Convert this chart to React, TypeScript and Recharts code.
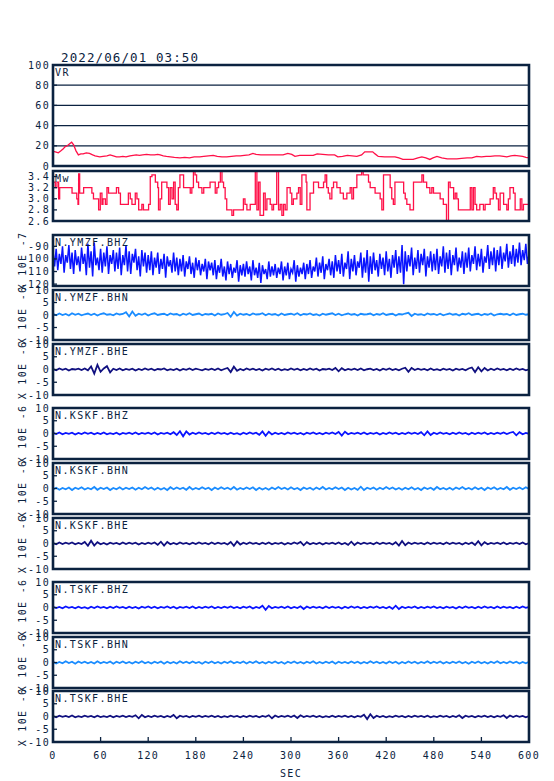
import React from "react";
import { LineChart, Line, XAxis, YAxis, CartesianGrid, ReferenceArea } from "recharts";

// ---- ticks ----
const X_TICKS = [0, 60, 120, 180, 240, 300, 360, 420, 480, 540, 600];
const VR_TICKS = [0, 20, 40, 60, 80, 100];
const MW_TICKS = [2.6, 2.8, 3.0, 3.2, 3.4];
const BHZ7_TICKS = [-120, -110, -100, -90];
const UM_TICKS = [-10, -5, 0, 5, 10];

// ---- VR [sec, value] ----
const VR: [number, number][] = [
  [0, 14.5], [3, 14], [6.7, 13], [10, 15], [13, 17], [15, 19], [18, 20], [21, 22], [23.5, 23.5], [26, 21],
  [29, 15], [32, 11], [35, 12], [38, 12], [42, 13], [46, 12.5], [50, 11], [53, 10], [56, 9.5], [59, 9],
  [63, 9.5], [68, 10], [72, 11], [76, 10], [80, 9], [84, 9], [88, 9.5], [92, 9], [97, 10], [101, 10.5],
  [105, 11], [109, 10.5], [113, 11], [118, 11.5], [123, 11], [128, 11], [132, 11.5], [135, 11], [139, 10], [143, 9.5],
  [148, 9], [153, 8.5], [160, 8], [166, 8.5], [172, 8], [178, 9], [185, 9], [190, 9.5], [196, 10], [202, 10.5],
  [207, 9.5], [213, 9], [219, 9], [225, 9.5], [231, 10], [236, 10], [241, 10.5], [247, 11], [252, 12.5], [256, 11.5],
  [262, 11], [269, 11], [275, 11], [282, 11], [290, 11], [296, 12.5], [301, 11.5], [305, 9.5], [311, 10.5], [320, 10.5],
  [328, 10.5], [333, 12], [340, 11.5], [347, 11], [355, 11], [359, 9], [365, 9.5], [371, 10.5], [377, 10], [383, 9.5],
  [389, 11], [393, 14], [398, 14], [403, 14], [406, 12], [410, 9.5], [418, 9], [425, 9], [431, 9], [436, 8],
  [441, 6.5], [448, 6.5], [454, 6.5], [460, 8], [465, 9], [470, 8], [475, 6.5], [479, 8], [484, 9.5], [490, 8],
  [497, 7], [503, 7], [509, 7], [515, 7.5], [522, 8], [528, 8], [534, 9.5], [540, 9], [546, 9.5], [551, 9.5],
  [557, 10], [563, 10], [568, 9.5], [572, 9], [577, 10], [582, 10.5], [587, 10], [592, 9.5], [596, 8.5], [600, 8],
];

// ---- Mw [sec, value], held until next ----
const MW: [number, number][] = [
  [0, 3.3], [2.9, 3.2], [5, 3.3], [7.1, 3.0], [8.4, 3.2], [24, 3.1], [30, 3.0], [31.5, 2.9], [32.3, 3.45], [33.6, 3.1],
  [38.6, 3.2], [49, 3.1], [51, 3.0], [57.5, 2.8], [59.6, 3.1], [61.7, 2.9], [63, 3.0], [66, 2.9], [68, 3.2], [70, 3.1],
  [80, 3.2], [82.7, 3.1], [85, 2.9], [95, 3.1], [97.4, 3.0], [99.5, 2.9], [103.7, 3.1], [105.8, 3.0], [108, 2.8], [112, 2.9],
  [114, 2.8], [120.5, 2.9], [122.6, 3.4], [124.7, 3.43], [129, 3.3], [132, 3.2], [133, 2.8], [135, 3.0], [137, 3.3], [143.6, 3.2],
  [145.7, 2.9], [147.8, 3.2], [150, 3.0], [152, 3.3], [154, 2.9], [156, 2.8], [158, 3.2], [160, 3.43], [164.6, 3.2], [173, 3.1],
  [175, 3.2], [177, 3.5], [179, 3.43], [181, 3.3], [183.5, 3.2], [187.7, 3.1], [190, 3.2], [198, 3.3], [204.5, 3.1], [206.6, 3.2],
  [208.7, 3.3], [211, 3.5], [213, 3.3], [215, 3.2], [217, 3.0], [219, 2.8], [225.5, 2.7], [227.6, 2.8], [240, 3.0], [242, 2.9],
  [244.4, 2.8], [248.6, 2.9], [255, 3.5], [257, 2.8], [259, 3.3], [261, 2.7], [265.4, 3.1], [267.5, 2.8], [269.6, 3.0], [273.8, 2.9],
  [276, 2.8], [278, 2.9], [282, 3.5], [284.3, 2.8], [286.4, 2.9], [288.5, 2.7], [290.6, 2.9], [292.7, 2.8], [295, 3.2], [299, 3.1],
  [301, 2.9], [303, 3.0], [307.4, 3.1], [309.5, 3.2], [311.6, 2.9], [313.7, 3.43], [319, 3.3], [320, 2.8], [324, 3.1], [328.4, 3.3],
  [334.7, 3.2], [341, 3.3], [343, 3.43], [345, 3.2], [347, 3.1], [349, 3.0], [351.5, 3.2], [353.6, 3.3], [357.8, 3.2], [362, 3.1],
  [366, 3.0], [370.4, 3.1], [374.6, 3.2], [376.7, 3.0], [378.8, 3.2], [383, 3.43], [389, 3.5], [391, 3.43], [397.7, 3.3], [399.8, 3.2],
  [406, 3.1], [412.4, 3.0], [414.5, 2.8], [416.6, 3.43], [425, 3.2], [427, 3.0], [429, 2.9], [431, 3.3], [442, 3.1], [444, 3.0],
  [446, 2.9], [450, 2.8], [454.4, 3.3], [465, 3.43], [467, 3.3], [471, 3.2], [475, 3.1], [477.5, 3.2], [479.6, 3.1], [488, 3.0],
  [492, 2.9], [496, 2.6], [498.5, 3.3], [500.6, 3.2], [505, 3.0], [507, 3.1], [509, 3.0], [511, 2.8], [526, 3.2], [528, 2.8],
  [530, 3.2], [532, 2.9], [534, 2.8], [538, 2.9], [542.6, 2.8], [544.7, 2.9], [551, 3.0], [555, 3.2], [557, 3.1], [559, 3.0],
  [561.5, 2.8], [563.6, 3.1], [568, 2.9], [572, 2.8], [574, 3.0], [576, 3.2], [580.4, 3.1], [582.5, 2.8], [589, 3.0], [591, 2.8],
  [593, 2.9], [600, 2.9],
];

// ---- waveforms, evenly sampled over 0..600 s ----
const YMZF_BHZ = [
  -94, -106, -92, -109, -96, -104, -90, -111, -97, -103, -89, -108, -95, -112, -93, -105, -98, -110, -91, -104,
  -96, -113, -88, -107, -94, -114, -87, -105, -99, -109, -92, -111, -95, -106, -90, -112, -97, -104, -93, -110,
  -95, -108, -91, -113, -97, -105, -89, -110, -94, -112, -96, -103, -92, -109, -98, -114, -93, -106, -95, -111,
  -97, -109, -94, -113, -99, -107, -95, -112, -100, -108, -96, -115, -98, -106, -101, -111, -95, -110, -99, -113,
  -100, -110, -97, -114, -102, -108, -98, -112, -103, -115, -99, -109, -101, -113, -104, -110, -100, -116, -102, -109,
  -103, -113, -101, -116, -105, -111, -100, -114, -106, -117, -102, -112, -104, -115, -107, -111, -101, -118, -105, -113,
  -104, -114, -102, -112, -106, -117, -101, -113, -107, -115, -103, -119, -105, -112, -108, -116, -102, -114, -106, -113,
  -104, -115, -107, -112, -102, -117, -106, -113, -103, -116, -108, -111, -101, -118, -105, -114, -107, -112, -103, -116,
  -104, -112, -101, -115, -106, -110, -99, -114, -103, -111, -98, -116, -104, -109, -100, -113, -102, -115, -97, -110,
  -101, -112, -96, -114, -103, -108, -94, -116, -100, -110, -97, -113, -102, -107, -95, -115, -99, -111, -93, -118,
  -98, -112, -95, -109, -101, -114, -96, -108, -99, -113, -94, -110, -100, -115, -97, -107, -93, -112, -98, -111,
  -89, -120, -94, -110, -97, -106, -91, -113, -99, -108, -93, -111, -96, -105, -92, -114, -98, -107, -94, -110,
  -96, -109, -92, -112, -98, -106, -90, -111, -95, -108, -93, -113, -97, -105, -91, -110, -99, -107, -94, -112,
  -95, -107, -91, -110, -97, -104, -90, -109, -96, -106, -92, -111, -98, -103, -89, -108, -94, -105, -91, -110,
  -93, -105, -90, -108, -95, -102, -88, -107, -94, -104, -89, -106, -92, -103, -87, -105, -93, -101, -88, -104,
  -96,
];

const YMZF_BHN = [
  .5, -.1, .6, 0, .4, -.2, .7, .1, .5, -.1, .3, .6, 0, .5, -.2, .4, .7, .1, .3, -.1, .6, .2, .4, 1.1, -.6,
  1.4, -.3, .5, .1, .6, -.2, .4, .7, 0, .3, .5, -.1, .6, .2, .4, -.2, .5, .1, .7, 0, .3, .6, -.1, .4, .2,
  .5, -.2, .6, .1, .3, .8, -.7, 1.2, -.2, .5, .1, .4, -.1, .6, .2, .3, .7, -.1, .5, .1, .4, -.2, .6, 0, .3,
  .5, .1, .7, -.1, .4, .2, .6, 0, .3, -.2, .5, .1, .4, .7, 0, .5, -.1, .3, .6, .1, .4, -.2, .5, .2, .3,
  .6, -.1, .4, .1, .7, 0, .3, .5, -.2, .4, .2, .6, .9, -.4, .5, .1, .3, -.1, .6, .2, .4, 0, .5, -.1, .3,
  .6, .1, .4, -.2, .5, .2, .7, 0, .3, .5, -.1, .4, .1, .6, -.2, .3, .5, .2, .4, -.1, .6, 0, .3, .5, .1, .3,
];

const YMZF_BHE = [
  .2, -.3, .4, -.1, .3, -.4, .2, 0, .3, -.2, .4, -.3, 1.2, -1.6, 1.8, -.9, .4, 1.3, -1.1, .3, -.2, .4, -.3, .2, -.1,
  .3, -.4, .2, -.2, .4, -.1, .3, -.3, .2, 0, .4, -.3, .1, -.2, .3, -.4, .2, -.1, .4, -.2, .3, 0, -.3, .2, -.1,
  .3, -.2, .4, -.3, .2, .6, -1, 1.1, -.5, .2, -.3, .4, -.1, .3, -.2, .2, -.4, .3, -.1, .4, -.2, .3, -.3, .1, -.2,
  .4, -.1, .3, -.3, .2, -.2, .4, -.1, .3, -.4, .2, 0, .3, -.2, .6, -.7, .5, -.3, .2, -.1, .3, -.2, .4, -.3, .1,
  .3, -.2, .2, -.4, .3, -.1, .4, -.2, .2, -.3, .3, .7, -.9, .6, -.2, .3, -.1, .2, -.3, .4, -.2, .1, -.3, .3, -.1,
  .2, -.4, .3, -.1, .2, -.3, .4, .8, -1, .9, -.7, .6, -.4, .3, -.2, .4, -.1, .2, -.3, .3, -.2, .4, -.1, .2, -.3, .1,
];

const KSKF_BHZ = [
  .3, -.2, .4, -.3, .2, -.1, .3, -.4, .2, -.2, .4, -.1, .3, -.3, .2, -.2, .4, -.3, .1, -.2, .3, -.4, .2, -.1, .3,
  -.2, .4, -.3, .2, -.1, .3, -.2, .4, -.4, .2, -.1, .3, -.3, .5, -.6, .9, -1.1, .8, -.4, .3, -.2, .4, -.1, .2, -.3,
  .3, -.2, .4, -.1, .2, -.3, .3, -.2, .1, -.4, .3, -.2, .4, -.1, .3, -.5, .8, -.9, .7, -.4, .3, -.2, .2, -.3, .4,
  -.1, .3, -.2, .2, -.4, .3, -.1, .4, -.2, .2, -.3, .3, -.1, .4, -.2, .6, -.8, .7, -.3, .2, -.1, .3, -.2, .4, -.3,
  .2, -.1, .3, -.4, .2, -.2, .4, -.1, .3, -.3, .2, -.2, .4, -.1, .3, -.2, .5, -.7, .8, -.6, .3, -.2, .4, -.1, .2,
  -.3, .3, -.2, .4, -.1, .2, -.4, .3, -.2, .3, -.1, .4, -.3, .2, -.2, .3, -.1, .4, -.2, .3, .6, -.7, .5, -.3, .2, -.1,
];

const KSKF_BHN = [
  -.4, .3, -.5, .2, -.3, .4, -.6, .3, -.2, .5, -.4, .2, -.3, .6, -.5, .3, -.2, .4, -.6, .2, -.3, .5, -.4, .3, -.2,
  .4, -.5, .3, -.3, .6, -.2, .4, -.5, .3, -.4, .2, -.6, .5, -.3, .4, -.2, .3, -.5, .6, -.4, .2, -.3, .5, -.2, .3,
  -.6, .4, -.3, .5, -.2, .3, -.4, .6, -.5, .2, -.3, .4, -.2, .5, -.6, .3, -.4, .2, -.5, .4, -.3, .6, -.2, .3, -.4,
  .5, -.3, .2, -.6, .4, -.2, .3, -.5, .4, -.3, .6, -.4, .2, -.3, .5, -.2, .4, -.6, .3, -.4, .2, -.5, .7, -.6, .3,
  -.2, .4, -.5, .3, -.3, .6, -.2, .4, -.4, .2, -.5, .3, -.3, .5, -.4, .2, -.6, .4, -.2, .3, -.5, .6, -.3, .2, -.4,
  .3, -.5, .4, -.2, .6, -.3, .2, -.4, .5, -.3, .3, -.6, .4, -.2, .5, -.4, .2, -.3, .6, -.5, .3, -.2, .4, -.3, .5, -.2,
];

const KSKF_BHE = [
  .2, -.3, .4, -.2, .3, -.1, .4, -.3, .2, -.2, .6, -.9, 1.1, -.8, .5, -.3, .2, -.4, .3, -.1, .2, -.3, .4, -.2, .3,
  -.1, .3, -.4, .2, -.2, .3, -.1, .4, -.5, .7, -.8, .6, -.3, .2, -.3, .4, -.1, .2, -.3, .3, -.2, .4, -.1, .2, -.3,
  .4, -.2, .3, -.1, .2, -.4, .6, -.9, .8, -.4, .3, -.2, .4, -.1, .2, -.3, .3, -.2, .4, -.3, .2, -.1, .3, -.4, .2,
  -.2, .4, -.1, .6, -.7, .5, -.3, .2, -.2, .3, -.4, .2, -.1, .3, -.2, .4, -.3, .2, -.5, .7, -.6, .4, -.2, .3, -.1,
  .2, -.3, .4, -.2, .3, -.1, .2, -.4, .5, -.8, 1, -.7, .4, -.2, .3, -.1, .2, -.3, .4, -.2, .3, -.1, .2, -.3, .4,
  -.2, .3, -.1, .2, -.4, .3, -.2, .4, -.6, .9, -.7, .5, -.3, .2, -.1, .3, -.2, .4, -.3, .2, -.1, .3, -.2, .4, -.3, .2,
];

const TSKF_BHZ = [
  .3, -.2, .2, -.3, .4, -.1, .2, -.3, .3, -.2, .1, -.4, .3, -.2, .4, -.1, .2, -.3, .3, -.2, .4, -.1, .2, -.3, .3,
  -.2, .2, -.4, .3, -.1, .4, -.2, .3, -.3, .2, -.1, .4, -.2, .3, -.4, .2, -.1, .3, -.2, .4, -.3, .2, -.2, .3, -.1,
  .4, -.3, .2, -.2, .3, -.1, .4, -.2, .2, -.3, .3, -.1, .4, -.4, .2, -.2, .7, -.9, .6, -.3, .2, -.1, .3, -.2, .4,
  -.3, .2, -.2, .5, -.6, .4, -.2, .3, -.1, .2, -.3, .4, -.2, .3, -.1, .2, -.4, .3, -.2, .4, -.1, .3, -.3, .2, -.2,
  .3, -.1, .4, -.2, .2, -.3, .3, -.5, .7, -.6, .3, -.2, .2, -.1, .4, -.3, .2, -.2, .3, -.1, .4, -.2, .2, -.3, .3,
  -.1, .2, -.4, .3, -.2, .4, -.1, .2, -.3, .3, -.2, .4, -.1, .2, -.3, .4, -.2, .3, -.1, .2, -.3, .3, -.2, .4, -.1, .2,
];

const TSKF_BHN = [
  .3, -.4, .2, -.3, .5, -.2, .3, -.5, .4, -.2, .3, -.3, .2, -.4, .5, -.3, .2, -.2, .4, -.5, .3, -.2, .4, -.3, .2,
  -.4, .3, -.2, .5, -.3, .2, -.4, .3, -.2, .4, -.5, .3, -.3, .2, -.4, .5, -.2, .3, -.3, .4, -.2, .2, -.5, .3, -.2,
  .4, -.3, .2, -.4, .3, -.2, .5, -.3, .2, -.2, .4, -.4, .3, -.2, .5, -.3, .2, -.4, .3, -.2, .4, -.3, .2, -.5, .3,
  -.2, .4, -.3, .2, -.4, .3, -.2, .5, -.4, .2, -.3, .3, -.2, .4, -.5, .3, -.2, .2, -.3, .4, -.2, .3, -.4, .2, -.3,
  .5, -.2, .3, -.3, .2, -.4, .4, -.2, .3, -.5, .2, -.3, .4, -.2, .3, -.4, .2, -.2, .5, -.3, .3, -.2, .4, -.4, .2,
  -.3, .3, -.2, .4, -.3, .2, -.5, .3, -.2, .4, -.3, .2, -.4, .3, -.2, .5, -.3, .2, -.3, .4, -.2, .3, -.4, .2, -.3, .3,
];

const TSKF_BHE = [
  .2, -.3, .3, -.1, .2, -.2, .4, -.3, .1, -.2, .3, -.1, .2, -.3, .3, -.2, .1, -.2, .3, -.3, .2, -.1, .3, -.2, .2,
  -.1, .5, -.7, .6, -.3, .2, -.2, .3, -.1, .2, -.3, .2, -.2, .6, -.7, .3, -.1, .2, -.3, .2, -.1, .3, -.2, .2, -.1,
  .3, -.2, .2, -.3, .1, -.2, .3, -.1, .2, -.3, .2, -.2, .3, -.1, .2, -.3, .2, -.1, .5, -.7, .4, -.2, .2, -.1, .3,
  -.2, .4, -.6, .5, -.2, .2, -.1, .3, -.2, .2, -.3, .1, -.2, .3, -.2, .2, -.1, .3, -.2, .2, -.3, .2, -.1, .7, -1,
  .9, -.6, .3, -.2, .2, -.3, .1, -.2, .3, -.1, .2, -.3, .2, -.2, .3, -.1, .2, -.2, .3, -.3, .1, -.2, .3, -.1, .2,
  -.3, .2, -.2, .5, -.6, .3, -.1, .2, -.3, .2, -.1, .3, -.2, .2, -.3, .2, -.1, .5, -.6, .4, -.2, .3, -.1, .2, -.3, .2,
];

// ---- styling ----
const INK = "#0b2240";
const RED = "#ff1048";
const BLUE = "#0a14ff";
const LIGHT = "#1a8cff";
const NAVY = "#101080";
const MONO = "'DejaVu Sans Mono', monospace";
const PAD = 8;

const fromPairs = (pairs: [number, number][]) => pairs.map(([t, v]) => ({ t, v }));
const sampled = (vals: number[]) => vals.map((v, i) => ({ t: (i * 600) / (vals.length - 1), v }));

type Panel = {
  name: string;
  top: number;
  h: number;
  rows: { t: number; v: number }[];
  domain: [number, number];
  ticks: number[];
  color: string;
  width: number;
  step?: boolean;
  grid?: boolean;
  unit?: string;
  fmt?: (v: number) => string;
};

const PANELS: Panel[] = [
  { name: "VR", top: 65, h: 101, rows: fromPairs(VR), domain: [0, 100], ticks: VR_TICKS, color: RED, width: 1.3, grid: true },
  { name: "Mw", top: 171, h: 50, rows: fromPairs(MW), domain: [2.6, 3.5], ticks: MW_TICKS, color: RED, width: 1.3, step: true, fmt: (v) => v.toFixed(1) },
  { name: "N.YMZF.BHZ", top: 235, h: 51, rows: sampled(YMZF_BHZ), domain: [-121.5, -81], ticks: BHZ7_TICKS, color: BLUE, width: 1.5, unit: "X 10E -7" },
  { name: "N.YMZF.BHN", top: 290, h: 50, rows: sampled(YMZF_BHN), domain: [-10, 10], ticks: UM_TICKS, color: LIGHT, width: 1.8, unit: "X 10E -6" },
  { name: "N.YMZF.BHE", top: 344, h: 51, rows: sampled(YMZF_BHE), domain: [-10, 10], ticks: UM_TICKS, color: NAVY, width: 1.8, unit: "X 10E -6" },
  { name: "N.KSKF.BHZ", top: 408, h: 51, rows: sampled(KSKF_BHZ), domain: [-10, 10], ticks: UM_TICKS, color: BLUE, width: 1.8, unit: "X 10E -6" },
  { name: "N.KSKF.BHN", top: 463, h: 51, rows: sampled(KSKF_BHN), domain: [-10, 10], ticks: UM_TICKS, color: LIGHT, width: 1.8, unit: "X 10E -6" },
  { name: "N.KSKF.BHE", top: 518, h: 51, rows: sampled(KSKF_BHE), domain: [-10, 10], ticks: UM_TICKS, color: NAVY, width: 1.8, unit: "X 10E -6" },
  { name: "N.TSKF.BHZ", top: 582, h: 51, rows: sampled(TSKF_BHZ), domain: [-10, 10], ticks: UM_TICKS, color: BLUE, width: 1.8, unit: "X 10E -6" },
  { name: "N.TSKF.BHN", top: 637, h: 51, rows: sampled(TSKF_BHN), domain: [-10, 10], ticks: UM_TICKS, color: LIGHT, width: 1.8, unit: "X 10E -6" },
  { name: "N.TSKF.BHE", top: 691, h: 51, rows: sampled(TSKF_BHE), domain: [-10, 10], ticks: UM_TICKS, color: NAVY, width: 1.8, unit: "X 10E -6" },
];

const tickText = { fill: INK, fontSize: 10, fontFamily: MONO, letterSpacing: 1.3 };
const tickMark = { stroke: INK, strokeWidth: 1.3 };
const textStyle: React.CSSProperties = {
  position: "absolute",
  fontFamily: MONO,
  fontSize: 10,
  lineHeight: "10px",
  letterSpacing: 1.3,
  color: INK,
  whiteSpace: "nowrap",
};

function PanelChart({ p, last }: { p: Panel; last: boolean }) {
  const xh = last ? 28 : 0;
  return (
    <div style={{ position: "absolute", left: 0, top: p.top - PAD }}>
      <LineChart
        width={554}
        height={p.h + PAD * 2 + xh}
        data={p.rows}
        margin={{ top: PAD, right: 25, bottom: PAD, left: 0 }}
      >
        {p.grid && <CartesianGrid vertical={false} stroke={INK} strokeWidth={1.3} xAxisId="b" yAxisId="l" />}
        <XAxis
          xAxisId="b"
          dataKey="t"
          type="number"
          domain={[0, 600]}
          ticks={X_TICKS}
          interval={0}
          height={xh}
          tickSize={-5}
          tickMargin={last ? 15 : 0}
          tick={last ? tickText : false}
          axisLine={false}
          tickLine={tickMark}
          allowDataOverflow
        />
        <XAxis
          xAxisId="t"
          orientation="top"
          type="number"
          domain={[0, 600]}
          ticks={X_TICKS}
          interval={0}
          height={0}
          tickSize={-5}
          tick={false}
          axisLine={false}
          tickLine={tickMark}
        />
        <YAxis
          yAxisId="l"
          type="number"
          domain={p.domain}
          ticks={p.ticks}
          interval={0}
          width={53}
          tickSize={-4}
          tickMargin={7}
          tick={tickText}
          tickFormatter={p.fmt}
          axisLine={false}
          tickLine={tickMark}
          allowDataOverflow
        />
        <YAxis
          yAxisId="r"
          orientation="right"
          type="number"
          domain={p.domain}
          ticks={p.ticks}
          interval={0}
          width={0}
          tickSize={-4}
          tick={false}
          axisLine={false}
          tickLine={tickMark}
        />
        <Line
          xAxisId="b"
          yAxisId="l"
          dataKey="v"
          type={p.step ? "stepAfter" : "linear"}
          stroke={p.color}
          strokeWidth={p.width}
          strokeLinejoin="miter"
          dot={false}
          isAnimationActive={false}
        />
        <ReferenceArea
          xAxisId="b"
          yAxisId="l"
          x1={0}
          x2={600}
          y1={p.domain[0]}
          y2={p.domain[1]}
          fill="none"
          fillOpacity={0}
          stroke={INK}
          strokeWidth={2.6}
          ifOverflow="visible"
          zIndex={2000}
        />
      </LineChart>
    </div>
  );
}

export default function App() {
  return (
    <div style={{ position: "absolute", left: 0, top: 0, width: 554, height: 781, background: "#fff" }}>
      <div style={{ ...textStyle, left: 61, top: 51.5, fontSize: 12.5, lineHeight: "12.5px", letterSpacing: 1.1 }}>
        2022/06/01 03:50
      </div>
      {PANELS.map((p, i) => (
        <PanelChart key={p.name} p={p} last={i === PANELS.length - 1} />
      ))}
      {PANELS.map((p) => (
        <div key={p.name + "-name"} style={{ ...textStyle, left: 55, top: p.top + 3, letterSpacing: 1.4 }}>
          {p.name}
        </div>
      ))}
      {PANELS.filter((p) => p.unit).map((p) => (
        <div
          key={p.name + "-unit"}
          style={{
            ...textStyle,
            left: 23,
            top: p.top + p.h / 2,
            transform: "translate(-50%, -50%) rotate(-90deg)",
          }}
        >
          {p.unit}
        </div>
      ))}
      <div style={{ ...textStyle, left: 291, top: 769, transform: "translateX(-50%)" }}>SEC</div>
    </div>
  );
}
